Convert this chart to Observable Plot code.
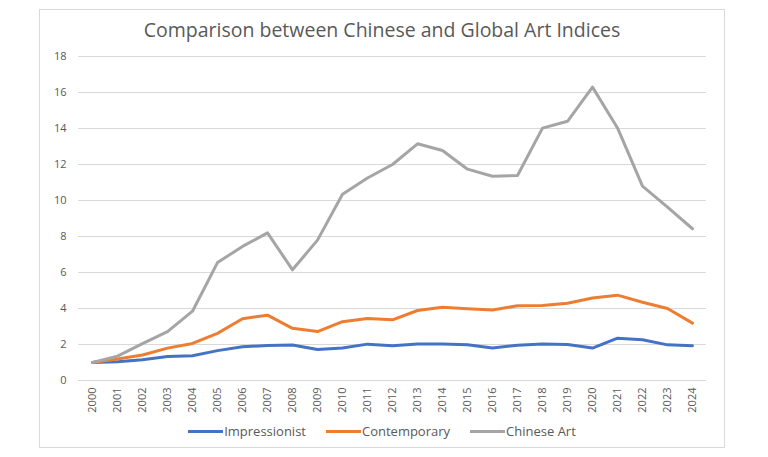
<!DOCTYPE html>
<html><head><meta charset="utf-8">
<script src="https://cdn.jsdelivr.net/npm/d3@7"></script>
<script src="https://cdn.jsdelivr.net/npm/@observablehq/plot@0.6"></script>
<style>
body{margin:0;background:#fff;font-family:"Open Sans",sans-serif;}
#frame{position:absolute;left:39px;top:9px;width:686px;height:439px;box-sizing:border-box;border:1px solid #d9d9d9;background:#fff;}
#title{height:36px;line-height:40px;text-align:center;font-size:19.5px;color:#595959;white-space:nowrap;}
#chart svg{display:block;}
#legend{display:flex;justify-content:center;gap:20px;font-size:13px;color:#595959;height:26px;align-items:center;}
#legend .it{display:flex;align-items:center;}
#legend .sw{display:inline-block;width:35px;height:3px;margin-right:1px;}
</style></head>
<body>
<div id="frame">
  <div id="title">Comparison between Chinese and Global Art Indices</div>
  <div id="chart"></div>
  <div id="legend"></div>
</div>
<script>
const years = ["2000","2001","2002","2003","2004","2005","2006","2007","2008","2009","2010","2011","2012","2013","2014","2015","2016","2017","2018","2019","2020","2021","2022","2023","2024"];
const seriesNames = ["Impressionist","Contemporary","Chinese Art"];
const seriesColors = ["#4472C4","#ED7D31","#A5A5A5"];
const impressionist = [1.0,1.04,1.15,1.33,1.38,1.66,1.88,1.94,1.97,1.72,1.81,2.02,1.93,2.03,2.03,1.99,1.80,1.96,2.03,2.0,1.80,2.35,2.26,1.98,1.93];
const contemporary = [1.0,1.2,1.42,1.8,2.06,2.62,3.43,3.63,2.9,2.72,3.27,3.44,3.37,3.89,4.07,3.98,3.92,4.15,4.17,4.29,4.58,4.74,4.35,4.0,3.19];
const chineseArt = [1.0,1.35,2.05,2.72,3.85,6.55,7.45,8.2,6.15,7.8,10.35,11.25,12.0,13.15,12.78,11.74,11.35,11.39,14.02,14.4,16.3,14.03,10.8,9.63,8.43];
const yTicks = [0,2,4,6,8,10,12,14,16,18];

const seriesValues = [impressionist, contemporary, chineseArt];
const data = [];
seriesNames.forEach((s, i) => years.forEach((y, j) => data.push({series: s, year: y, value: seriesValues[i][j]})));

const chart = Plot.plot({
  width: 684, height: 372,
  marginLeft: 38, marginRight: 18, marginTop: 10, marginBottom: 38,
  style: {color: "#595959", fontFamily: "Open Sans, sans-serif", fontSize: "11px", background: "transparent", overflow: "visible"},
  x: {type: "point", domain: years, padding: 0.5, label: null},
  y: {domain: [0, 18], label: null},
  color: {domain: seriesNames, range: seriesColors},
  marks: [
    Plot.ruleY(yTicks, {stroke: "#d9d9d9", strokeWidth: 1}),
    Plot.axisY({ticks: yTicks, tickSize: 0, tickPadding: 12, label: null}),
    Plot.axisX({tickSize: 0, tickRotate: -90, tickPadding: 7, label: null}),
    Plot.line(data, {x: "year", y: "value", z: "series", stroke: "series", strokeWidth: 3, strokeLinejoin: "round", strokeLinecap: "round"})
  ]
});
document.getElementById("chart").appendChild(chart);

const legend = document.getElementById("legend");
seriesNames.forEach((s, i) => {
  const it = document.createElement("div");
  it.className = "it";
  const sw = document.createElement("span");
  sw.className = "sw";
  sw.style.background = seriesColors[i];
  it.appendChild(sw);
  it.appendChild(document.createTextNode(s));
  legend.appendChild(it);
});
</script>
</body></html>
